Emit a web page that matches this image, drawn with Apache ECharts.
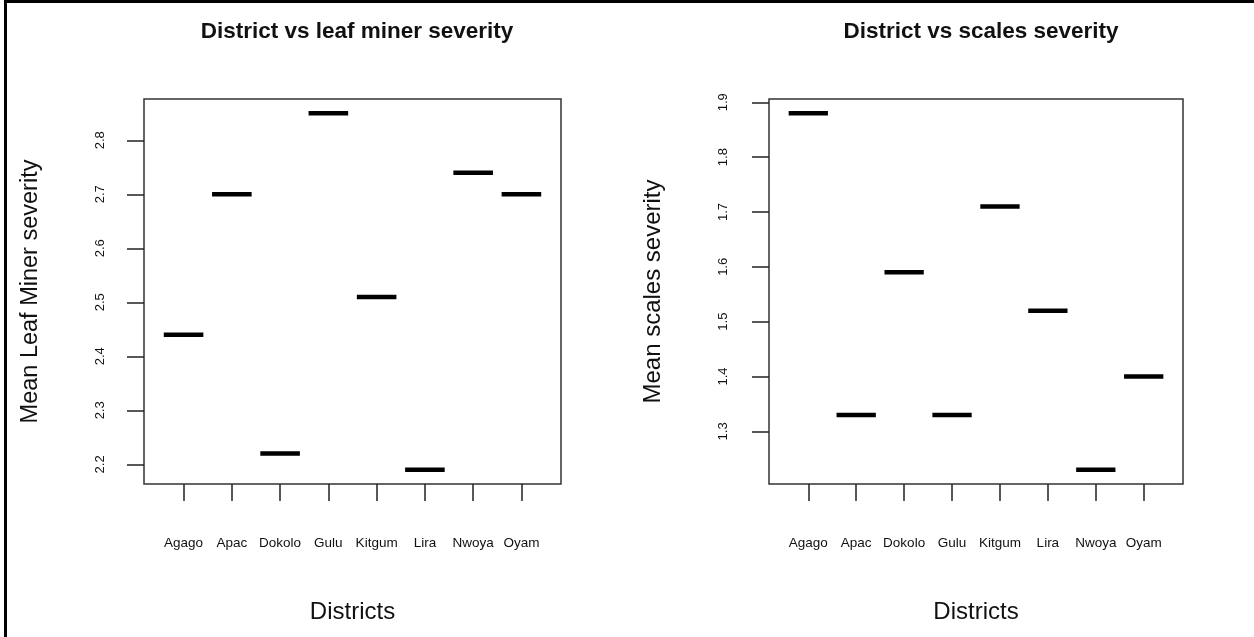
<!DOCTYPE html>
<html>
<head>
<meta charset="utf-8">
<script src="https://cdn.jsdelivr.net/npm/echarts@6/dist/echarts.min.js"></script>
<style>
html,body{margin:0;padding:0;background:#fff;}
#main{width:1254px;height:637px;}
</style>
</head>
<body>
<div id="main"></div>
<script>
const districts = ['Agago','Apac','Dokolo','Gulu','Kitgum','Lira','Nwoya','Oyam'];
const leafMinerSeverity = [2.44, 2.70, 2.22, 2.85, 2.51, 2.19, 2.74, 2.70];
const scalesSeverity = [1.88, 1.33, 1.59, 1.33, 1.71, 1.52, 1.23, 1.40];
const leafTicks = [2.2, 2.3, 2.4, 2.5, 2.6, 2.7, 2.8];
const scalesTicks = [1.3, 1.4, 1.5, 1.6, 1.7, 1.8, 1.9];
const positions = [1, 2, 3, 4, 5, 6, 7, 8];

function pad(arr) {
  const lo = Math.min(...arr), hi = Math.max(...arr), d = (hi - lo) * 0.04;
  return [lo - d, hi + d];
}
const leafRange = pad(leafMinerSeverity);
const scalesRange = pad(scalesSeverity);

const FONT = '"Liberation Sans",Arial,sans-serif';

function segRender(params, api) {
  const x = api.value(0), y = api.value(1);
  const a = api.coord([x - 0.41, y]);
  const b = api.coord([x + 0.41, y]);
  return {
    type: 'line',
    shape: {x1: a[0], y1: a[1], x2: b[0], y2: b[1]},
    style: {stroke: '#000', lineWidth: 4.5, lineCap: 'butt'}
  };
}

function xAxisCfg(gi) {
  return {
    gridIndex: gi, type: 'value', min: 0.18, max: 8.82,
    name: 'Districts', nameLocation: 'middle', nameGap: 116,
    nameTextStyle: {fontFamily: FONT, fontSize: 24, color: '#111'},
    axisLine: {show: false},
    splitLine: {show: false},
    axisTick: {show: true, inside: false, length: 17, customValues: positions,
      lineStyle: {color: '#222', width: 1.5}},
    axisLabel: {customValues: positions, margin: 52, fontFamily: FONT, fontSize: 13.5, color: '#111',
      formatter: v => districts[Math.round(v) - 1] || ''}
  };
}
function yAxisCfg(gi, range, ticks, name, gap, margin, nameSize) {
  return {
    gridIndex: gi, type: 'value', min: range[0], max: range[1],
    name: name, nameLocation: 'middle', nameGap: gap,
    nameTextStyle: {fontFamily: FONT, fontSize: nameSize, color: '#111'},
    axisLine: {show: false},
    splitLine: {show: false},
    axisTick: {show: true, inside: false, length: 17, customValues: ticks,
      lineStyle: {color: '#222', width: 1.5}},
    axisLabel: {customValues: ticks, rotate: 90, margin: margin, fontFamily: FONT, fontSize: 13, color: '#111',
      formatter: v => v.toFixed(1)}
  };
}

const chart = echarts.init(document.getElementById('main'), null, {renderer: 'canvas'});
chart.setOption({
  animation: false,
  backgroundColor: '#fff',
  title: [
    {text: 'District vs leaf miner severity', left: 352, top: 15, textAlign: 'center',
     textStyle: {fontFamily: FONT, fontWeight: 'bold', fontSize: 22.5, color: '#111'}},
    {text: 'District vs scales severity', left: 976, top: 15, textAlign: 'center',
     textStyle: {fontFamily: FONT, fontWeight: 'bold', fontSize: 22.5, color: '#111'}}
  ],
  graphic: [{
    type: 'rect', silent: true,
    shape: {x: 5.5, y: 1.5, width: 1400, height: 800},
    style: {fill: 'none', stroke: '#000', lineWidth: 3}
  }],
  grid: [
    {left: 144, top: 99, width: 417, height: 385, show: true, borderColor: '#333', borderWidth: 1.5, backgroundColor: 'transparent'},
    {left: 769, top: 99, width: 414, height: 385, show: true, borderColor: '#333', borderWidth: 1.5, backgroundColor: 'transparent'}
  ],
  xAxis: [xAxisCfg(0), xAxisCfg(1)],
  yAxis: [
    yAxisCfg(0, leafRange, leafTicks, 'Mean Leaf Miner severity', 101, 37, 23.5),
    yAxisCfg(1, scalesRange, scalesTicks, 'Mean scales severity', 104, 39, 24)
  ],
  series: [
    {type: 'custom', xAxisIndex: 0, yAxisIndex: 0, renderItem: segRender,
     data: positions.map((p, i) => [p, leafMinerSeverity[i]])},
    {type: 'custom', xAxisIndex: 1, yAxisIndex: 1, renderItem: segRender,
     data: positions.map((p, i) => [p, scalesSeverity[i]])}
  ]
});
</script>
</body>
</html>
